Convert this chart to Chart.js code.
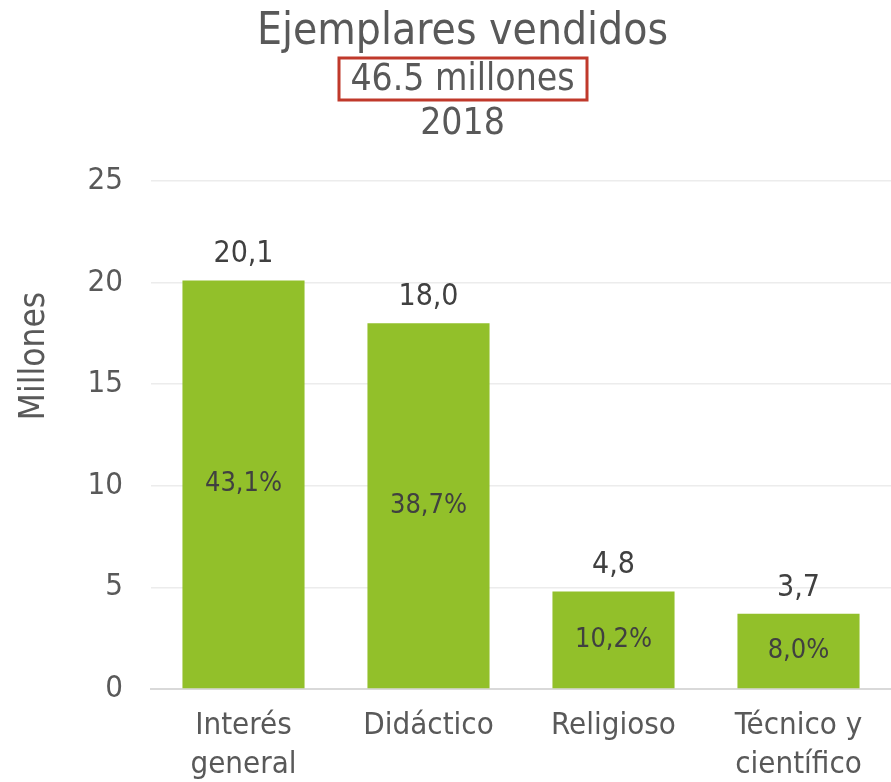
<!DOCTYPE html>
<html>
<head>
<meta charset="utf-8">
<script src="https://cdn.jsdelivr.net/npm/chart.js@4"></script>
<style>
  html, body { margin: 0; padding: 0; background: #fff; }
  #wrap { width: 891px; height: 782px; }
</style>
</head>
<body>
<div id="wrap"><canvas id="bar-chartcanvas" width="891" height="782"></canvas></div>
<script>
var categorias = [["Interés", "general"], "Didáctico", "Religioso", ["Técnico y", "científico"]];
var millones = [20.1, 18.0, 4.8, 3.7];
var porcentajes = ["43,1%", "38,7%", "10,2%", "8,0%"];
var titulo = "Ejemplares vendidos";
var subtitulo = "46.5 millones";
var anio = "2018";
var ejeY = "Millones";

var FONT = "'DejaVu Sans Condensed', 'DejaVu Sans', sans-serif";

// titles + red box + axis title + bar labels
var etiquetas = {
	id : "etiquetas",
	afterDraw : function(chart) {
		var ctx = chart.ctx;
		var cx = chart.width / 2 + 17;
		ctx.save();
		ctx.textAlign = "center";
		ctx.textBaseline = "middle";
		ctx.fillStyle = "#595959";
		ctx.font = "44px " + FONT;
		ctx.fillText(titulo, cx, 33);
		ctx.font = "37px " + FONT;
		ctx.fillText(subtitulo, cx, 80);
		ctx.fillText(anio, cx, 124);

		ctx.strokeStyle = "#c0392b";
		ctx.lineWidth = 3;
		ctx.strokeRect(339, 58, 248, 42);

		// y axis title (sits above the middle of the axis in the original)
		ctx.save();
		ctx.translate(35, 356);
		ctx.rotate(-Math.PI / 2);
		ctx.font = "35px " + FONT;
		ctx.fillText(ejeY, 0, 0);
		ctx.restore();

		var meta = chart.getDatasetMeta(0);
		ctx.fillStyle = "#404040";
		meta.data.forEach(function(bar, i) {
			ctx.font = "30px " + FONT;
			ctx.textBaseline = "bottom";
			ctx.fillText(millones[i].toFixed(1).replace(".", ","), bar.x, bar.y - 11);
			ctx.font = "27px " + FONT;
			ctx.textBaseline = "middle";
			ctx.fillText(porcentajes[i], bar.x, (bar.y + bar.base) / 2);
		});
		ctx.restore();
	}
};

var ctx = document.getElementById("bar-chartcanvas");

var chart = new Chart(ctx, {
	type : "bar",
	data : {
		labels : categorias,
		datasets : [
			{
				data : millones,
				backgroundColor : "#92c02a",
				barPercentage : 0.66,
				categoryPercentage : 1
			}
		]
	},
	options : {
		responsive : false,
		animation : false,
		layout : { padding : { top : 181, right : 0, left : 0, bottom : 0 } },
		plugins : {
			legend : { display : false },
			tooltip : { enabled : false }
		},
		scales : {
			x : {
				grid : { display : false, drawTicks : false },
				border : { color : "#d9d9d9", width : 2 },
				ticks : { color : "#595959", font : { family : FONT, size : 31, lineHeight : 1.25 }, padding : 18 },
				afterFit : function(scale) { scale.height = 93; }
			},
			y : {
				min : 0,
				max : 25,
				ticks : { stepSize : 5, color : "#595959", font : { family : FONT, size : 31 }, padding : 28 },
				grid : { color : "#ececec", lineWidth : 1.5, drawTicks : false },
				border : { display : false },
				afterFit : function(scale) { scale.width = 151; }
			}
		}
	},
	plugins : [etiquetas]
});
</script>
</body>
</html>
